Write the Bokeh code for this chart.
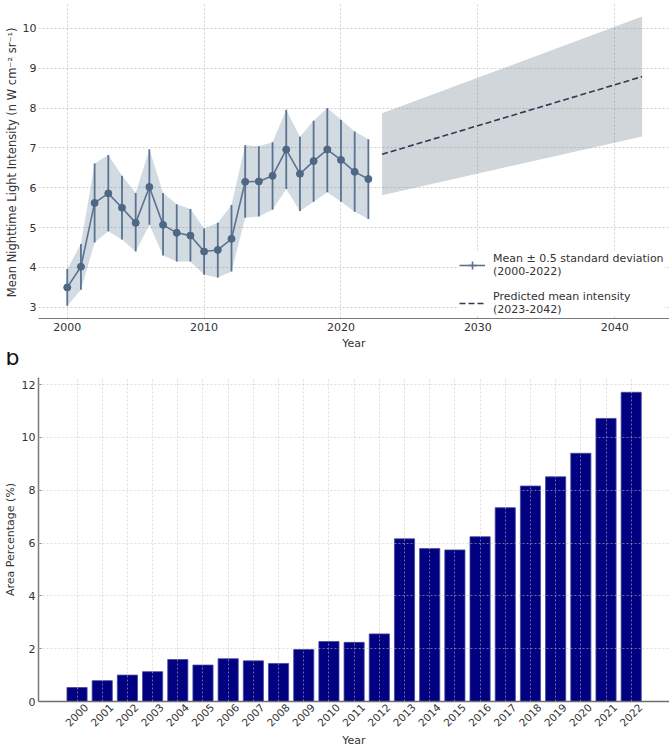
from math import pi

from bokeh.embed import file_html
from bokeh.layouts import column
from bokeh.models import (ColumnDataSource, CustomJSTickFormatter, FixedTicker,
                          Legend, LegendItem, Range1d, Title)
from bokeh.plotting import figure
from bokeh.resources import INLINE

# ---- (a) mean nighttime light intensity, 2000-2022 ----
years = list(range(2000, 2023))
mean_intensity = [3.50, 4.02, 5.62, 5.86, 5.50, 5.12, 6.02, 5.07, 4.87, 4.80, 4.40, 4.44,
                  4.72, 6.15, 6.16, 6.30, 6.96, 6.35, 6.67, 6.96, 6.70, 6.40, 6.22]
intensity_upper = [3.96, 4.59, 6.61, 6.82, 6.30, 5.87, 6.97, 5.87, 5.59, 5.47, 4.98, 5.12,
                   5.57, 7.07, 7.04, 7.14, 7.96, 7.28, 7.68, 8.00, 7.71, 7.41, 7.22]
intensity_lower = [3.04, 3.44, 4.63, 4.91, 4.70, 4.40, 5.07, 4.30, 4.15, 4.15, 3.82, 3.75,
                   3.90, 5.25, 5.28, 5.45, 5.97, 5.42, 5.65, 5.89, 5.65, 5.40, 5.22]

# linear projection 2023-2042 (end points of the trend and its band)
pred_years = [2023, 2042]
pred_mean = [6.84, 8.79]
pred_lower = [5.81, 7.29]
pred_upper = [7.87, 10.30]

intensity_ticks_x = [2000, 2010, 2020, 2030, 2040]
intensity_ticks_y = [3, 4, 5, 6, 7, 8, 9, 10]

# ---- (b) share of lit area per year ----
area_pct = [0.53, 0.79, 1.00, 1.13, 1.59, 1.38, 1.62, 1.54, 1.44, 1.97, 2.27, 2.24,
            2.56, 6.16, 5.79, 5.74, 6.24, 7.34, 8.16, 8.51, 9.40, 10.72, 11.71]
area_ticks_y = [0, 2, 4, 6, 8, 10, 12]

panel_letters = ["a", "b"]

FONT = "DejaVu Sans"
TEXT = "#333333"
GRID = "#c4c4c4"
SERIES = "#5b7390"
H1, H2 = 352, 398


def style_common(p):
    p.outline_line_color = None
    p.background_fill_color = "white"
    p.border_fill_color = "white"
    for g in (p.xgrid, p.ygrid):
        g.grid_line_color = GRID
        g.grid_line_dash = "2 2"
        g.grid_line_width = 0.8
    for ax in (p.xaxis, p.yaxis):
        ax.major_label_text_font = FONT
        ax.major_label_text_color = TEXT
        ax.axis_label_text_font = FONT
        ax.axis_label_text_color = TEXT
        ax.axis_label_text_font_style = "normal"
        ax.axis_label_text_line_height = 1.0
        ax.minor_tick_line_color = None
        ax.minor_tick_in = 0
        ax.minor_tick_out = 0


def panel_letter(text, offset, standoff):
    # letter in the top margin, pulled left past the frame edge
    return Title(text=text, align="left", vertical_align="top", offset=offset,
                 standoff=standoff, text_font=FONT, text_font_size="22px",
                 text_font_style="normal", text_color="#111111")


# ---------------- panel a ----------------
p1 = figure(width=669, height=H1, output_backend="svg", toolbar_location=None,
            x_range=Range1d(1997.9, 2044.0), y_range=Range1d(2.72, 10.65),
            min_border_left=33, min_border_right=0, min_border_top=2, min_border_bottom=34)
style_common(p1)
p1.xaxis.ticker = FixedTicker(ticks=intensity_ticks_x)
p1.yaxis.ticker = FixedTicker(ticks=intensity_ticks_y)
p1.xaxis.axis_line_color = "#7a7a7a"
p1.xaxis.axis_line_width = 1.2
p1.yaxis.axis_line_color = None
for ax in (p1.xaxis, p1.yaxis):
    ax.major_tick_line_color = None
    ax.major_tick_in = 0
    ax.major_tick_out = 0
    ax.major_label_text_font_size = "11px"
p1.xaxis.major_label_standoff = 4
p1.yaxis.major_label_standoff = 2
p1.xaxis.axis_label = "Year"
p1.xaxis.axis_label_text_font_size = "11px"
p1.xaxis.axis_label_standoff = 3
p1.yaxis.axis_label = "Mean Nighttime Light Intensity  (n W cm\u207b\u00b2 sr\u207b\u00b9)"
p1.yaxis.axis_label_text_font_size = "11.5px"
p1.yaxis.axis_label_standoff = 1

hist = ColumnDataSource(dict(year=years, mean=mean_intensity,
                             lo=intensity_lower, hi=intensity_upper))
pred = ColumnDataSource(dict(year=pred_years, mean=pred_mean, lo=pred_lower, hi=pred_upper))

p1.varea(x="year", y1="lo", y2="hi", source=pred, fill_color="#708090", fill_alpha=0.32)
p1.varea(x="year", y1="lo", y2="hi", source=hist, fill_color="#4d6b8a", fill_alpha=0.25)
p1.segment(x0="year", y0="lo", x1="year", y1="hi", source=hist,
           line_color=SERIES, line_width=1.8)
mean_line = p1.line(x="year", y="mean", source=hist, line_color=SERIES, line_width=1.6)
# small cross under each point: hidden by the dots, it gives the legend its whisker
whisker_key = p1.scatter(x="year", y="mean", source=hist, marker="cross", size=5,
                         line_color=SERIES, line_width=1.6)
mean_pts = p1.scatter(x="year", y="mean", source=hist, size=7,
                      fill_color="#4e6784", line_color="#4e6784")
pred_line = p1.line(x="year", y="mean", source=pred, line_color="#2f3b52",
                    line_width=1.6, line_dash="6 3")

legend = Legend(items=[
    LegendItem(label="Mean \u00b1 0.5 standard deviation\n(2000-2022)",
               renderers=[mean_line, whisker_key]),
    LegendItem(label="Predicted mean intensity\n(2023-2042)", renderers=[pred_line]),
], location=(421, 2))
legend.label_text_font = FONT
legend.label_text_font_size = "11px"
legend.label_text_color = TEXT
legend.border_line_color = None
legend.background_fill_color = "white"
legend.background_fill_alpha = 1.0
legend.glyph_width = 26
legend.label_standoff = 8
legend.spacing = 12
legend.padding = 5
legend.margin = 0
p1.add_layout(legend, "center")
p1.add_layout(panel_letter(panel_letters[0], offset=-30, standoff=-48), "above")

# ---------------- panel b ----------------
p2 = figure(width=669, height=H2, output_backend="svg", toolbar_location=None,
            x_range=Range1d(1998.47, 2023.52), y_range=Range1d(0, 12.27),
            min_border_left=36, min_border_right=0, min_border_top=25, min_border_bottom=47)
style_common(p2)
p2.vbar(x=years, top=area_pct, width=0.8, fill_color="#000080",
        line_color="#4848a0", line_width=0.8)

p2.xgrid.ticker = FixedTicker(ticks=years)
p2.ygrid.ticker = FixedTicker(ticks=area_ticks_y)
p2.xgrid.level = "annotation"
p2.ygrid.level = "annotation"
p2.xgrid.grid_line_alpha = 0.7
p2.ygrid.grid_line_alpha = 0.7

# rotated year labels are anchored at their right end, so the ticks sit a bit
# to the right of each bar centre to keep every label centred under its bar
p2.xaxis.ticker = FixedTicker(ticks=[y + 0.36 for y in years])
p2.xaxis.formatter = CustomJSTickFormatter(code="return Math.floor(tick).toString()")
p2.xaxis.major_label_orientation = pi / 4
p2.xaxis.major_label_text_font_size = "10.5px"
p2.xaxis.major_label_standoff = 4
p2.xaxis.major_tick_line_color = None
p2.xaxis.major_tick_in = 0
p2.xaxis.major_tick_out = 0
p2.xaxis.axis_line_color = "#6e6e6e"
p2.xaxis.axis_line_width = 1.5
p2.xaxis.axis_label = "Year"
p2.xaxis.axis_label_text_font_size = "11px"
p2.xaxis.axis_label_standoff = 1

p2.yaxis.ticker = FixedTicker(ticks=area_ticks_y)
p2.yaxis.major_label_text_font_size = "11px"
p2.yaxis.major_label_standoff = 3
p2.yaxis.major_tick_in = 3
p2.yaxis.major_tick_out = 0
p2.yaxis.major_tick_line_color = "#7a7a7a"
p2.yaxis.axis_line_color = "#7a7a7a"
p2.yaxis.axis_line_width = 1.5
p2.yaxis.axis_label = "Area Percentage (%)"
p2.yaxis.axis_label_text_font_size = "11px"
p2.yaxis.axis_label_standoff = 2
p2.add_layout(panel_letter(panel_letters[1], offset=-33, standoff=-66), "above")

layout = column(p1, p2, spacing=0)
open("out.html", "w").write(file_html(layout, INLINE))
